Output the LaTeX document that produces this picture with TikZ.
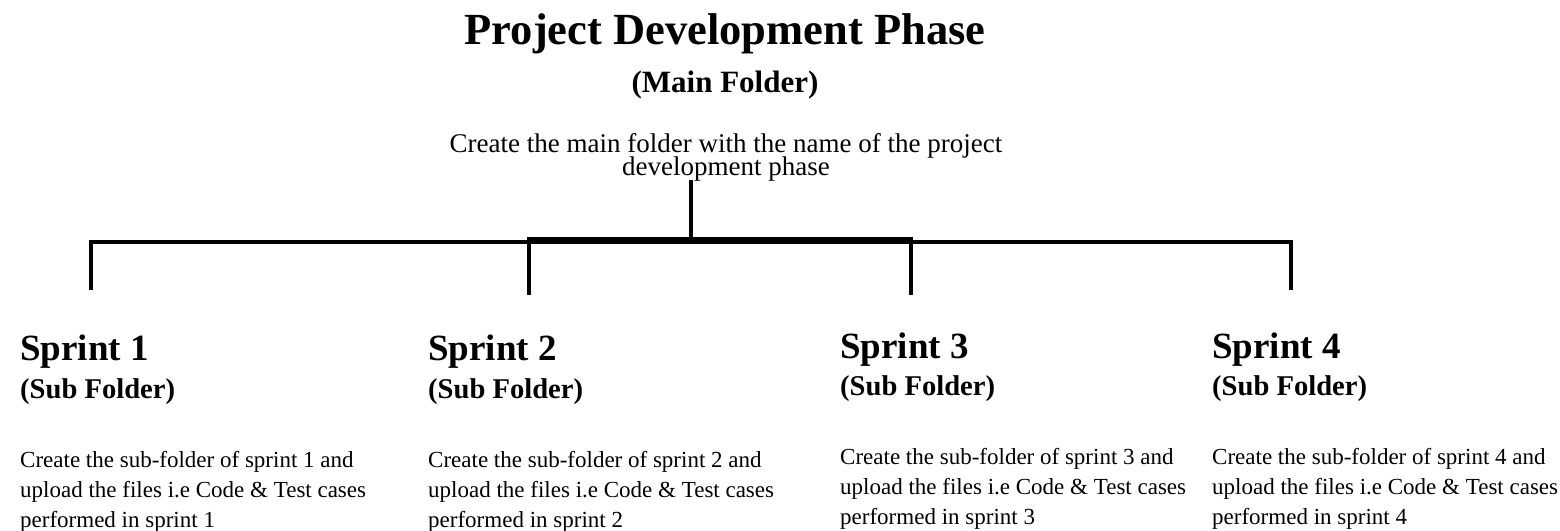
\documentclass[tikz,border=0pt]{standalone}
\usepackage{fontspec}
\setmainfont{Liberation Serif}
\newcommand\tightlines{\lineskiplimit=-50pt\relax}
\begin{document}
\begin{tikzpicture}[x=1pt,y=-1pt,
  title/.style={font=\bfseries\fontsize{44.5}{50}\selectfont, inner sep=0pt, anchor=base},
  subtitle/.style={font=\bfseries\fontsize{31}{36}\selectfont, inner sep=0pt, anchor=base},
  desc/.style={font={\fontsize{27}{23}\selectfont\tightlines}, inner sep=0pt, align=center, anchor=north},
  head/.style={font=\bfseries\fontsize{37}{42}\selectfont, inner sep=0pt, anchor=base west},
  subhead/.style={font=\bfseries\fontsize{28.6}{34}\selectfont, inner sep=0pt, anchor=base west},
  body/.style={font=\fontsize{23}{30}\selectfont, inner sep=0pt, anchor=base west},
  conn/.style={line width=3.6pt, line join=miter, line cap=butt},
  bar/.style={line width=7pt, line cap=butt}]
\useasboundingbox (0,0) rectangle (1560,530);

\node[title] (title) at (725,44) {Project Development Phase};
\node[subtitle] (mainf) at (725,92) {(Main Folder)};
\node[desc] (desc) at (726,133.5) {Create the main folder with the name of the project\\development phase};

% sprint 1
\node[head] (h1) at (20,360) {Sprint 1};
\node[subhead] (f1) at (20,398) {(Sub Folder)};
\node[body] (b1a) at (20,467) {Create the sub-folder of sprint 1 and};
\node[body] (b1b) at (20,497) {upload the files i.e Code \& Test cases};
\node[body] (b1c) at (20,527) {performed in sprint 1};
% sprint 2
\node[head] (h2) at (428,360) {Sprint 2};
\node[subhead] (f2) at (428,398) {(Sub Folder)};
\node[body] (b2a) at (428,467) {Create the sub-folder of sprint 2 and};
\node[body] (b2b) at (428,497) {upload the files i.e Code \& Test cases};
\node[body] (b2c) at (428,527) {performed in sprint 2};
% sprint 3
\node[head] (h3) at (840,358) {Sprint 3};
\node[subhead] (f3) at (840,395) {(Sub Folder)};
\node[body] (b3a) at (840,464) {Create the sub-folder of sprint 3 and};
\node[body] (b3b) at (840,494) {upload the files i.e Code \& Test cases};
\node[body] (b3c) at (840,524) {performed in sprint 3};
% sprint 4
\node[head] (h4) at (1212,358) {Sprint 4};
\node[subhead] (f4) at (1212,395) {(Sub Folder)};
\node[body] (b4a) at (1212,464) {Create the sub-folder of sprint 4 and};
\node[body] (b4b) at (1212,494) {upload the files i.e Code \& Test cases};
\node[body] (b4c) at (1212,524) {performed in sprint 4};

% connector coordinates
\coordinate (stemtop) at (691,180);
\coordinate (hub) at (691,241);
\coordinate (v1t) at (91,242);
\coordinate (v1b) at (91,290);
\coordinate (v2t) at (529,240);
\coordinate (v2b) at (529,295);
\coordinate (v3t) at (911,240);
\coordinate (v3b) at (911,295);
\coordinate (v4t) at (1291,242);
\coordinate (v4b) at (1291,290);

\draw[conn] (stemtop) -- (hub);
\draw[conn] (v1b) -- (v1t) -- (v4t) -- (v4b);
\draw[bar] ([xshift=-1.8pt]v2t) -- ([xshift=1.8pt]v3t);
\draw[conn] (v2t) -- (v2b);
\draw[conn] (v3t) -- (v3b);
\end{tikzpicture}
\end{document}
